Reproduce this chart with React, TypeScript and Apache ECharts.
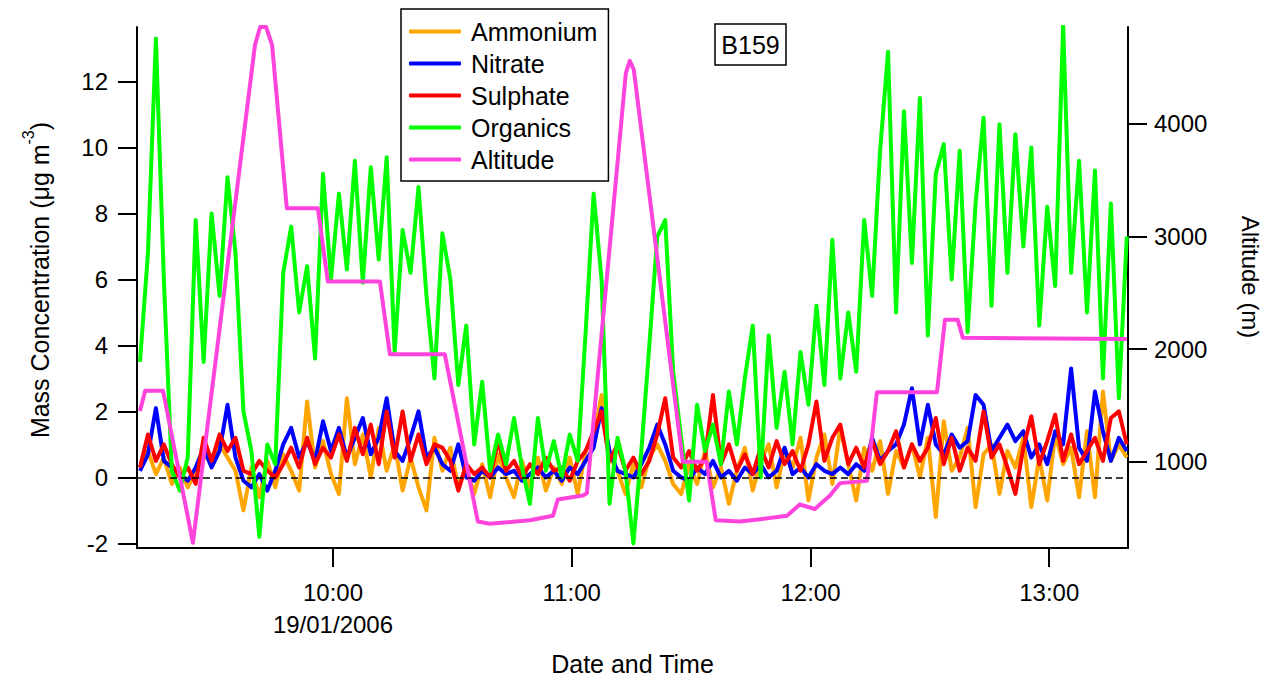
import React, { useEffect, useRef } from "react";
import * as echarts from "echarts";

const FONT = "'Liberation Sans', Arial, Helvetica, sans-serif";

// time axis in minutes after midnight (19/01/2006)
const TIME_MIN = 550.75;
const TIME_MAX = 799.8;
const TIME_START = 551.5;
const TIME_STEP = 2;
const TIME_TICKS = [600, 660, 720, 780];
const DATE_LABEL = "19/01/2006";

const CONC_TICKS = [-2, 0, 2, 4, 6, 8, 10, 12];
const ALT_TICKS = [1000, 2000, 3000, 4000];

const SERIES_NAMES = ["Ammonium", "Nitrate", "Sulphate", "Organics", "Altitude"];
const SERIES_COLORS = ["#FFA500", "#0000FF", "#FF0000", "#00FF00", "#FF44DD"];

const ammonium = [
  0.3, 0.8, 0.1, 0.6, -0.2, 0.3, -0.3, 0.2, 0.7, 0.4,
  1.0, 0.6, 0.2, -1.0, 0.3, -0.6, 0.5, -0.3, 0.7, 0.2,
  -0.4, 2.3, 0.3, 1.1, 0.1, -0.5, 2.4, 0.4, 1.3, 0.0,
  1.5, 0.2, 1.0, -0.4, 0.6, -0.3, -1.0, 1.2, 0.2, 0.9,
  -0.3, 0.3, -0.5, 0.4, -0.6, 0.7, 0.0, -0.6, 0.5, -0.3,
  0.6, -0.4, 0.3, -0.2, 0.6, -0.5, 0.8, 1.2, 2.5, 0.6,
  0.2, -0.5, 0.4, -0.3, 0.6, 1.0, 0.5, -0.2, -0.5, 0.4,
  -0.2, 0.8, -0.3, 0.3, -0.8, 0.2, 0.9, -0.4, 0.5, 1.0,
  -0.3, 0.8, 0.3, 1.2, -0.7, 0.6, 1.3, -0.2, 1.5, 0.4,
  -0.7, 0.9, 0.2, 1.1, -0.5, 0.8, 0.3, 1.0, 0.0, 1.2,
  -1.2, 1.7, 0.2, 0.6, 1.5, -0.9, 0.7, 1.0, -0.5, 0.8,
  0.3, 1.2, -0.9, 0.6, -0.7, 1.3, 0.4, 0.9, -0.6, 1.4,
  -0.6, 2.6, 0.5, 1.0, 0.6,
];

const nitrate = [
  0.2, 0.7, 2.1, 0.5, 0.3, 0.1, -0.1, 0.3, 0.9, 0.3,
  0.8, 2.2, 0.6, -0.1, -0.3, 0.1, -0.4, 0.2, 1.0, 1.5,
  0.6, 1.1, 0.5, 1.7, 0.8, 1.5, 0.6, 1.2, 1.8, 0.7,
  1.2, 2.4, 0.8, 0.5, 1.2, 2.0, 0.6, 0.9, 0.4, 0.2,
  1.0, 0.0, -0.1, 0.2, 0.0, 0.3, 0.1, 0.2, -0.1, 0.1,
  0.3, 0.0, 0.2, -0.1, 0.3, 0.1, 0.5, 0.9, 2.1, 0.8,
  0.2, 0.1, 0.0, 0.4, 0.9, 1.6, 1.0, 0.2, 0.0, -0.1,
  0.3, 0.1, 0.5, 0.0, 0.2, -0.1, 0.3, 0.1, 0.4, 0.0,
  0.2, 0.9, 0.1, 0.3, 0.0, 0.4, 0.2, 0.1, 0.3, 0.1,
  0.4, 0.2, 1.2, 0.5, 0.8, 1.0, 1.6, 2.7, 1.0, 2.2,
  1.0, 0.7, 1.3, 0.9, 1.1, 2.5, 2.2, 0.8, 1.2, 1.6,
  1.1, 1.4, 0.6, 1.0, 0.4, 1.4, 1.0, 3.3, 0.9, 0.5,
  2.6, 1.4, 0.5, 1.2, 0.8,
];

const sulphate = [
  0.3, 1.3, 0.5, 1.0, 0.4, 0.0, 0.3, -0.2, 1.2, 0.5,
  1.3, 0.8, 1.2, 0.2, 0.1, 0.5, 0.2, 0.0, 0.4, 0.9,
  0.3, 1.2, 0.4, 0.9, 0.6, 1.3, 0.5, 1.5, 0.7, 1.6,
  0.4, 2.0, 0.6, 2.0, 0.5, 1.3, 0.4, 1.0, 0.9, 0.5,
  -0.4, 0.4, 0.1, 0.3, 0.0, 1.1, 0.2, 0.5, 0.0, 0.4,
  0.1, 0.6, 0.2, 0.3, -0.1, 0.5, 0.8, 1.4, 2.0, 0.5,
  1.0, 0.2, 0.6, 0.1, 0.5, 1.3, 2.4, 0.6, 0.3, 0.8,
  0.2, 0.6, 2.5, 0.4, 1.0, 0.2, 0.7, 0.1, 0.9, 0.3,
  1.1, 0.4, 0.8, 0.2, 1.0, 2.3, 0.5, 1.2, 1.6, 0.4,
  0.9, 0.3, 1.1, 0.4, 0.8, 1.4, 0.3, 1.0, 0.5, 0.9,
  1.8, 0.4, 1.2, 0.2, 0.9, 0.5, 2.0, 0.6, 1.0, 0.3,
  -0.5, 0.9, 1.85, 0.4, 1.1, 1.9, 0.5, 1.3, 0.4, 0.8,
  1.2, 0.5, 1.8, 2.0, 1.0,
];

const organics = [
  3.5, 6.8, 13.3, 6.0, 0.2, -0.4, 0.6, 7.8, 3.5, 8.0,
  5.5, 9.1, 6.8, 2.0, 0.8, -1.8, 1.0, 0.4, 6.2, 7.6,
  5.0, 6.4, 3.6, 9.2, 6.0, 8.6, 6.3, 9.6, 5.9, 9.4,
  6.6, 9.7, 3.8, 7.5, 6.2, 8.8, 5.5, 3.0, 7.4, 6.0,
  2.8, 4.6, 1.0, 2.9, 0.2, 1.3, 0.4, 1.8, 0.3, -0.8,
  1.8, 0.2, 1.1, 0.0, 1.3, 0.5, 4.4, 8.6, 6.0, -0.8,
  1.2, 0.2, -2.0, 0.8, 4.0, 7.3, 7.8, 3.2, 1.2, -0.7,
  2.2, 0.8, 1.6, 0.4, 2.6, 1.0, 3.0, 4.6, 0.0, 4.3,
  1.5, 3.2, 1.0, 3.8, 2.2, 5.2, 2.8, 7.2, 3.0, 5.0,
  3.2, 7.8, 5.5, 9.9, 12.9, 5.0, 11.1, 6.5, 11.5, 4.3,
  9.2, 10.1, 6.0, 9.9, 4.4, 8.3, 10.9, 5.2, 10.7, 6.2,
  10.4, 7.0, 10.0, 4.6, 8.2, 5.8, 13.7, 6.2, 9.6, 5.0,
  9.3, 3.0, 8.3, 2.4, 7.3,
];

const altitudeTimes = [
  551.5, 552.8, 557.3, 564.8, 580.4, 581.7, 583.2, 584.7, 588.4, 596.2,
  598.7, 611.8, 614.3, 628.1, 636.4, 639.4, 649.5, 655.3, 656.5, 662.8,
  663.8, 673.6, 674.6, 675.6, 687.9, 693.9, 696.2, 702.3, 707.3, 714.1,
  717.3, 721.1, 724.9, 727.4, 734.2, 736.7, 751.8, 753.8, 757.0, 758.3,
  799.5,
];
const altitudeValues = [
  1450, 1630, 1630, 280, 4700, 4860, 4860, 4700, 3250, 3250,
  2600, 2600, 1955, 1955, 470, 450, 480, 520, 665, 700,
  720, 4450, 4560, 4480, 1000, 1000, 480, 470, 490, 520,
  620, 580, 700, 810, 830, 1617, 1617, 2260, 2260, 2100,
  2090,
];

function timeLabel(v: number): string {
  const h = Math.floor(v / 60);
  const m = Math.round(v - h * 60);
  const s = `${h}:${String(m).padStart(2, "0")}`;
  return v === 600 ? `${s}\n${DATE_LABEL}` : s;
}

function seriesPairs(values: number[]): number[][] {
  return values.map((v, i) => [TIME_START + i * TIME_STEP, v]);
}

export default function App() {
  const ref = useRef<HTMLDivElement>(null);

  useEffect(() => {
    if (!ref.current) return;
    const chart = echarts.init(ref.current, null, { renderer: "svg" });
    const concData = [ammonium, nitrate, sulphate, organics];

    const lineSeries: any[] = concData.map((vals, k) => ({
      name: SERIES_NAMES[k],
      type: "line",
      yAxisIndex: 0,
      data: seriesPairs(vals),
      showSymbol: false,
      symbol: "none",
      color: SERIES_COLORS[k],
      itemStyle: { color: SERIES_COLORS[k] },
      lineStyle: { color: SERIES_COLORS[k], width: 4, join: "round" },
      silent: true,
      ...(k === 0
        ? {
            markLine: {
              silent: true,
              symbol: "none",
              label: { show: false },
              lineStyle: { color: "#000", width: 1.5, type: [7, 4] },
              data: [{ yAxis: 0 }],
            },
          }
        : {}),
    }));

    lineSeries.push({
      name: SERIES_NAMES[4],
      type: "line",
      yAxisIndex: 1,
      data: altitudeTimes.map((t, i) => [t, altitudeValues[i]]),
      showSymbol: false,
      symbol: "none",
      color: SERIES_COLORS[4],
      itemStyle: { color: SERIES_COLORS[4] },
      lineStyle: { color: SERIES_COLORS[4], width: 4, join: "round" },
      silent: true,
    });

    const axisLineStyle = { color: "#000", width: 2 };
    const labelStyle = { color: "#000", fontSize: 24, fontFamily: FONT };

    chart.setOption({
      animation: false,
      backgroundColor: "#ffffff",
      grid: { left: 137, right: 139, top: 27, bottom: 129, containLabel: false },
      legend: {
        data: SERIES_NAMES,
        orient: "vertical",
        left: 401,
        top: 9,
        padding: [10, 11, 9, 8],
        itemGap: 7,
        itemWidth: 52,
        itemHeight: 4,
        icon: "roundRect",
        borderColor: "#000",
        borderWidth: 1.5,
        borderRadius: 0,
        backgroundColor: "#ffffff",
        selectedMode: false,
        textStyle: { color: "#000", fontSize: 25, fontFamily: FONT, lineHeight: 25, padding: [0, 0, 0, 5] },
      },
      xAxis: {
        type: "value",
        min: TIME_MIN,
        max: TIME_MAX,
        position: "bottom",
        axisLine: { show: true, onZero: false, lineStyle: axisLineStyle },
        axisTick: { show: true, inside: false, length: 19, lineStyle: axisLineStyle, customValues: TIME_TICKS },
        axisLabel: {
          ...labelStyle,
          customValues: TIME_TICKS,
          margin: 28,
          lineHeight: 32,
          formatter: (v: number) => timeLabel(v),
        },
        splitLine: { show: false },
      },
      yAxis: [
        {
          type: "value",
          position: "left",
          min: -2.14,
          max: 13.65,
          axisLine: { show: true, onZero: false, lineStyle: axisLineStyle },
          axisTick: { show: true, inside: false, length: 19, lineStyle: axisLineStyle, customValues: CONC_TICKS },
          axisLabel: { ...labelStyle, customValues: CONC_TICKS, margin: 29, formatter: (v: number) => String(v) },
          splitLine: { show: false },
        },
        {
          type: "value",
          position: "right",
          min: 234,
          max: 4860,
          axisLine: { show: true, onZero: false, lineStyle: axisLineStyle },
          axisTick: { show: true, inside: false, length: 19, lineStyle: axisLineStyle, customValues: ALT_TICKS },
          axisLabel: { ...labelStyle, customValues: ALT_TICKS, margin: 26, formatter: (v: number) => String(v) },
          splitLine: { show: false },
        },
      ],
      graphic: [
        {
          type: "rect",
          shape: { x: 715, y: 24, width: 71, height: 41 },
          style: { fill: "#fff", stroke: "#000", lineWidth: 1.5 },
          z: 10,
        },
        {
          type: "text",
          x: 750.5,
          y: 45,
          z: 11,
          style: {
            text: "B159",
            fontSize: 25,
            fontFamily: FONT,
            fill: "#000",
            align: "center",
            verticalAlign: "middle",
          },
        },
        {
          type: "text",
          x: 632.5,
          y: 664,
          style: {
            text: "Date and Time",
            fontSize: 25,
            fontFamily: FONT,
            fill: "#000",
            align: "center",
            verticalAlign: "middle",
          },
        },
        {
          type: "text",
          x: 1250,
          y: 277,
          rotation: -Math.PI / 2,
          style: {
            text: "Altitude (m)",
            fontSize: 24,
            fontFamily: FONT,
            fill: "#000",
            align: "center",
            verticalAlign: "middle",
          },
        },
        {
          type: "text",
          x: 36,
          y: 280,
          rotation: Math.PI / 2,
          style: {
            text: "{a|Mass Concentration (μg m}{s|-3}{a|)}",
            fill: "#000",
            align: "center",
            verticalAlign: "middle",
            rich: {
              a: { fontSize: 25, fontFamily: FONT, lineHeight: 32, fill: "#000", verticalAlign: "bottom" },
              s: { fontSize: 16, fontFamily: FONT, lineHeight: 14, fill: "#000", verticalAlign: "top" },
            },
          },
        },
      ],
      series: lineSeries,
    });

    return () => chart.dispose();
  }, []);

  return (
    <div
      ref={ref}
      style={{ position: "absolute", left: 0, top: 0, width: 1267, height: 677, background: "#fff" }}
    />
  );
}
